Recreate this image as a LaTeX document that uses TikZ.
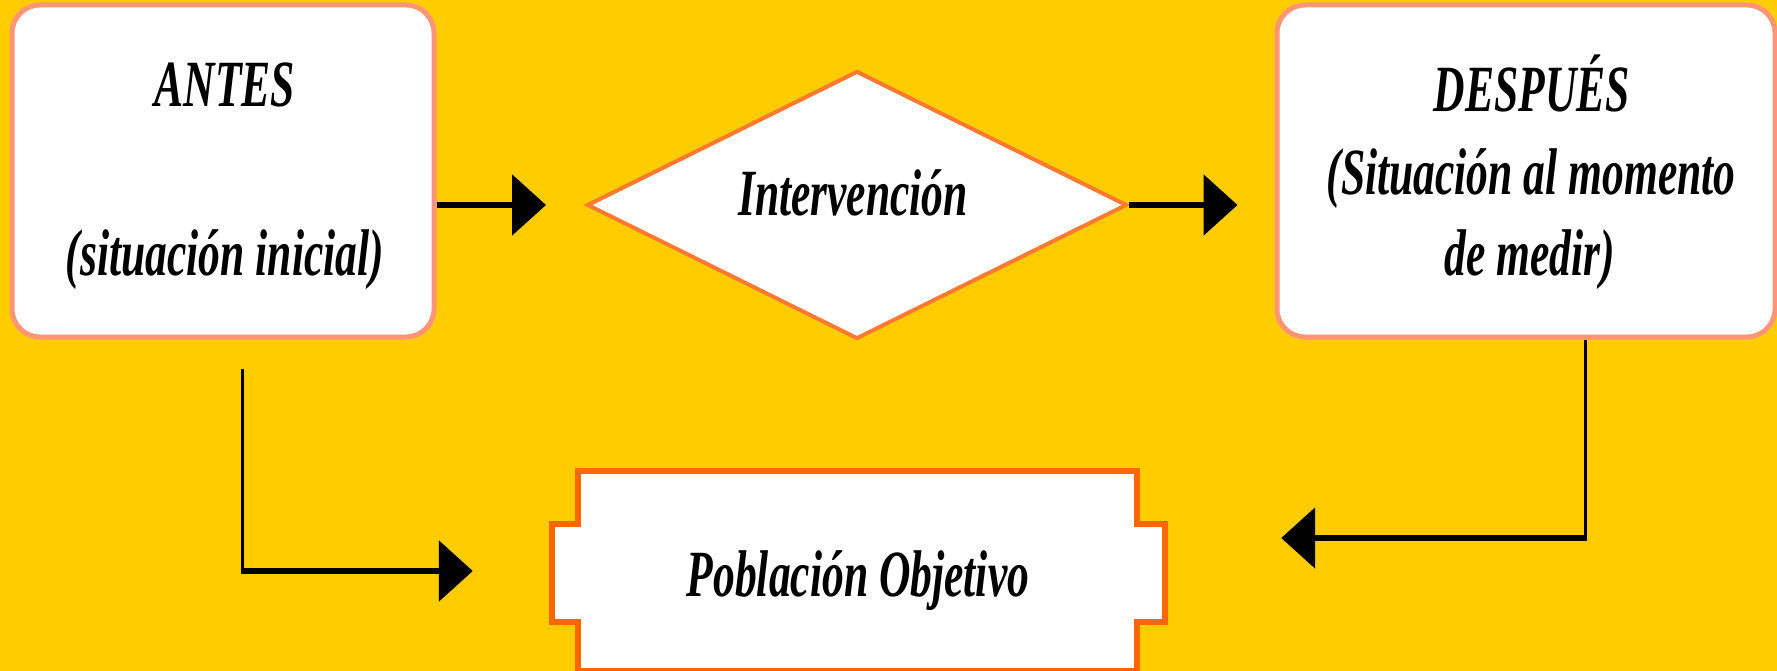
\documentclass[tikz,border=0pt]{standalone}
\usepackage{fontspec}
\usetikzlibrary{shapes.geometric,arrows.meta}
\newfontfamily\tfont[FakeStretch=0.66]{Liberation Serif}
\definecolor{bgyellow}{HTML}{FFCC00}
\definecolor{boxline}{HTML}{FF9574}
\definecolor{dialine}{HTML}{FF7A30}
\definecolor{pobline}{HTML}{FF6600}
\begin{document}
\begin{tikzpicture}[x=1pt,y=-1pt,
  roundbox/.style={draw=boxline, line width=5pt, fill=white, rounded corners=28pt, inner sep=0pt},
  diabox/.style={shape=diamond, draw=dialine, line width=4pt, fill=white, inner sep=0pt},
  txt/.style={font=\tfont\bfseries\itshape\fontsize{66}{70}\selectfont, inner sep=0pt, anchor=base, text=black},
  hconn/.style={line width=6pt, -{Triangle[length=34pt,width=60pt]}},
  vconn/.style={line width=3pt}
]
\useasboundingbox (0,0) rectangle (1777,671);
\fill[bgyellow] (0,0) rectangle (1777,671);

% boxes
\node[roundbox, minimum width=422pt, minimum height=332pt] (antes) at (223,171) {};
\node[roundbox, minimum width=498pt, minimum height=332pt] (despues) at (1526,171) {};
\node[diabox, minimum width=540pt, minimum height=268pt] (dia) at (857,205) {};

% Poblacion objetivo shape
\node[inner sep=0pt, minimum width=559pt, minimum height=200pt] (pob) at (857.5,571) {};
\draw[draw=pobline, line width=6pt, fill=white]
  (pob.north west) -- (pob.north east) -- ++(0,53) -- ++(28,0) -- ++(0,98) -- ++(-28,0)
  -- (pob.south east) -- (pob.south west) -- ++(0,-49) -- ++(-26,0) -- ++(0,-98) -- ++(26,0) -- cycle;

% texts
\node[txt] (antesA) at (225,107) {ANTES};
\node[txt] (antesB) at (225,275) {(situación inicial)};
\node[txt] (diaT) at (853,215) {Intervención};
\node[txt] (despA) at (1532,112) {DESPUÉS};
\node[txt] (despB) at (1531,195) {(Situación al momento};
\node[txt] (despC) at (1530,275) {de medir)};
\node[txt] (pobT) at (858,596) {Población Objetivo};

% connectors
\draw[hconn] (antes.east |- dia.west) -- ([xshift=-39pt]dia.west);
\draw[hconn] (dia.east) -- ([xshift=-37pt]despues.west |- dia.east);

\coordinate (lstart) at ([xshift=19pt,yshift=-29pt]antes.south);
\coordinate (lend) at ([xshift=-105pt]pob.west);
\coordinate (lcorner) at (lstart |- lend);
\draw[vconn] (lstart) -- ([yshift=-3pt]lcorner);
\draw[hconn] ([xshift=-1.5pt]lcorner) -- (lend);

\coordinate (rstart) at ([xshift=59pt]despues.south);
\coordinate (rend) at ([xshift=144pt,yshift=33pt]pob.east);
\coordinate (rcorner) at (rstart |- rend);
\draw[vconn] (rstart) -- ([yshift=-3pt]rcorner);
\draw[hconn] ([xshift=1.5pt]rcorner) -- (rend);
\end{tikzpicture}
\end{document}
